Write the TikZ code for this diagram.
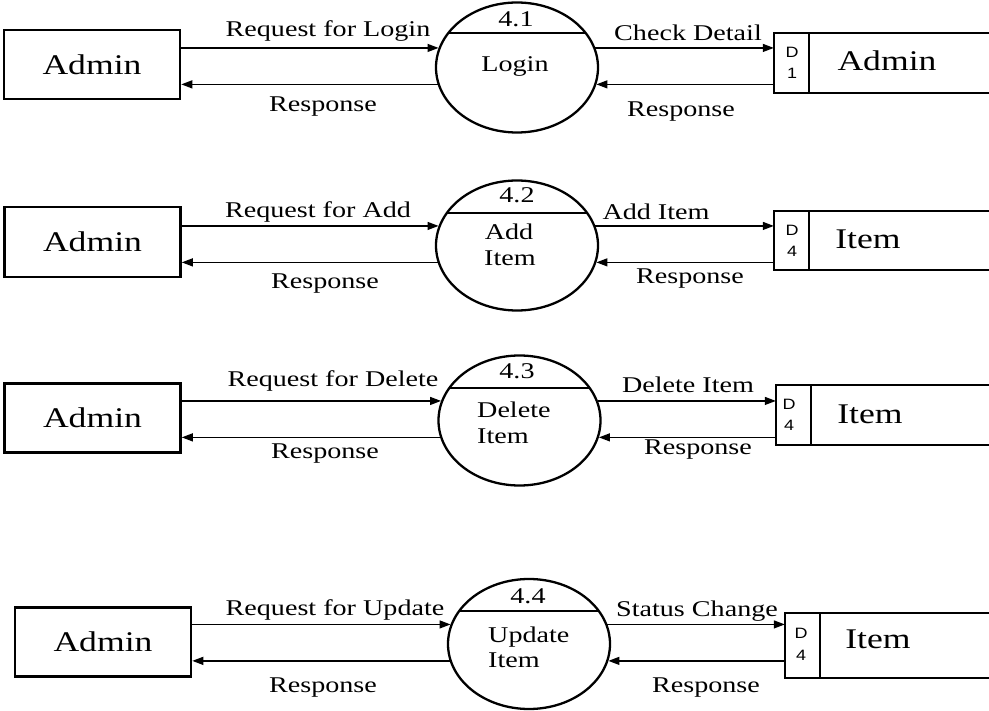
\documentclass[tikz,border=0pt]{standalone}
\usepackage{fontspec}
\setmainfont{Liberation Serif}[FakeStretch=1.25]
\newfontfamily\dsfont{Liberation Sans}[FakeStretch=1.2]
\usetikzlibrary{arrows.meta,shapes.geometric,calc}
\tikzset{
  ent/.style={draw, line width=2.6pt, minimum width=176pt, minimum height=69pt, inner sep=0pt,
    font=\fontsize{28.5}{30}\selectfont},
  proc/.style={draw, ellipse, line width=2.3pt, minimum width=162pt, minimum height=130pt, inner sep=0pt},
  store/.style={inner sep=0pt, minimum height=60pt},
  storeline/.style={line width=1.7pt},
  chord/.style={line width=1.3pt},
  flow/.style={line width=1.3pt, -{Triangle[length=11pt,width=8pt]}},
  lbl/.style={font=\fontsize{22.5}{24}\selectfont, inner sep=0pt, anchor=base},
  lblw/.style={lbl, anchor=base west},
  big/.style={font=\fontsize{28.5}{30}\selectfont, inner sep=0pt, anchor=base},
  sid/.style={font=\dsfont\fontsize{15}{16}\selectfont, inner sep=0pt, anchor=base},
}
\begin{document}
\begin{tikzpicture}[x=1pt, y=-1pt]
\useasboundingbox (0,0) rectangle (989,711);
\fill[white] (0,0) rectangle (989,711);

% ---------- Row 1 ----------
\node[ent] (a1) at (92,64.5) {Admin};
\node[proc] (p1) at (517,67.5) {};
\node[store, minimum width=215pt] (s1) at (881.5,63) {};
\begin{scope}
  \clip (p1.center) ellipse [x radius=81pt, y radius=65pt];
  \draw[chord] ($(p1.center)+(-90,-34.5)$) -- ++(180,0);
\end{scope}
\draw[storeline] (s1.north east) -- (s1.north west) -- (s1.south west) -- (s1.south east);
\draw[storeline] ($(s1.north west)+(35,0)$) -- ($(s1.south west)+(35,0)$);
\node[lbl] (n1) at (516,27) {4.1};
\node[lbl] (t1) at (515,72) {Login};
\node[big] (s1t) at (887,71) {Admin};
\node[sid] (s1d) at (792,58) {D};
\node[sid] (s1n) at (792,79) {1};
\draw[flow] (a1.east |- p1.166) -- (p1.166);
\draw[flow] (p1.192) -- (a1.east |- p1.192);
\draw[flow] (p1.14) -- (s1.west |- p1.14);
\draw[flow] (s1.west |- p1.348) -- (p1.348);
\node[lbl] (l1a) at (328,37) {Request for Login};
\node[lbl] (l1b) at (323,112) {Response};
\node[lbl] (l1c) at (688,41) {Check Detail};
\node[lbl] (l1d) at (681,117) {Response};

% ---------- Row 2 ----------
\node[ent, minimum height=70pt] (a2) at (92.5,242) {Admin};
\node[proc] (p2) at (517,245.5) {};
\node[store, minimum width=215pt, minimum height=59pt] (s2) at (881.5,240.5) {};
\begin{scope}
  \clip (p2.center) ellipse [x radius=81pt, y radius=65pt];
  \draw[chord] ($(p2.center)+(-90,-32.5)$) -- ++(180,0);
\end{scope}
\draw[storeline] (s2.north east) -- (s2.north west) -- (s2.south west) -- (s2.south east);
\draw[storeline] ($(s2.north west)+(35,0)$) -- ($(s2.south west)+(35,0)$);
\node[lbl] (n2) at (517,203) {4.2};
\node[lbl] (t2a) at (509,240) {Add};
\node[lbl] (t2b) at (510,266) {Item};
\node[big] (s2t) at (868,249) {Item};
\node[sid] (s2d) at (792,236) {D};
\node[sid] (s2n) at (792,257) {4};
\draw[flow] (a2.east |- p2.166) -- (p2.166);
\draw[flow] (p2.192) -- (a2.east |- p2.192);
\draw[flow] (p2.14) -- (s2.west |- p2.14);
\draw[flow] (s2.west |- p2.348) -- (p2.348);
\node[lbl] (l2a) at (318,218) {Request for Add};
\node[lbl] (l2b) at (325,289) {Response};
\node[lbl] (l2c) at (656,220) {Add Item};
\node[lbl] (l2d) at (690,284) {Response};

% ---------- Row 3 ----------
\node[ent] (a3) at (92.5,418) {Admin};
\node[proc] (p3) at (519.5,420.5) {};
\node[store, minimum width=213pt] (s3) at (882.5,415) {};
\begin{scope}
  \clip (p3.center) ellipse [x radius=81pt, y radius=65pt];
  \draw[chord] ($(p3.center)+(-90,-32.5)$) -- ++(180,0);
\end{scope}
\draw[storeline] (s3.north east) -- (s3.north west) -- (s3.south west) -- (s3.south east);
\draw[storeline] ($(s3.north west)+(35,0)$) -- ($(s3.south west)+(35,0)$);
\node[lbl] (n3) at (517,379) {4.3};
\node[lblw] (t3a) at (477,418) {Delete};
\node[lblw] (t3b) at (477,444) {Item};
\node[big] (s3t) at (870,424) {Item};
\node[sid] (s3d) at (789,410) {D};
\node[sid] (s3n) at (789,431) {4};
\draw[flow] (a3.east |- p3.166) -- (p3.166);
\draw[flow] (p3.192) -- (a3.east |- p3.192);
\draw[flow] (p3.14) -- (s3.west |- p3.14);
\draw[flow] (s3.west |- p3.348) -- (p3.348);
\node[lbl] (l3a) at (333,387) {Request for Delete};
\node[lbl] (l3b) at (325,459) {Response};
\node[lbl] (l3c) at (688,393) {Delete Item};
\node[lbl] (l3d) at (698,455) {Response};

% ---------- Row 4 ----------
\node[ent] (a4) at (103,642) {Admin};
\node[proc] (p4) at (529,644) {};
\node[store, minimum width=204pt, minimum height=65pt] (s4) at (887,645.5) {};
\begin{scope}
  \clip (p4.center) ellipse [x radius=81pt, y radius=65pt];
  \draw[chord] ($(p4.center)+(-90,-33)$) -- ++(180,0);
\end{scope}
\draw[storeline] (s4.north east) -- (s4.north west) -- (s4.south west) -- (s4.south east);
\draw[storeline] ($(s4.north west)+(35,0)$) -- ($(s4.south west)+(35,0)$);
\node[lbl] (n4) at (528,603) {4.4};
\node[lblw] (t4a) at (488,642) {Update};
\node[lblw] (t4b) at (488,667) {Item};
\node[big] (s4t) at (878,648) {Item};
\node[sid] (s4d) at (801,638) {D};
\node[sid] (s4n) at (801,660) {4};
\draw[flow] (a4.east |- p4.166) -- (p4.166);
\draw[flow] (p4.192) -- (a4.east |- p4.192);
\draw[flow] (p4.14) -- (s4.west |- p4.14);
\draw[flow] (s4.west |- p4.348) -- (p4.348);
\node[lbl] (l4a) at (335,615) {Request for Update};
\node[lbl] (l4b) at (323,692) {Response};
\node[lbl] (l4c) at (697,616) {Status Change};
\node[lbl] (l4d) at (706,692) {Response};
\end{tikzpicture}
\end{document}
